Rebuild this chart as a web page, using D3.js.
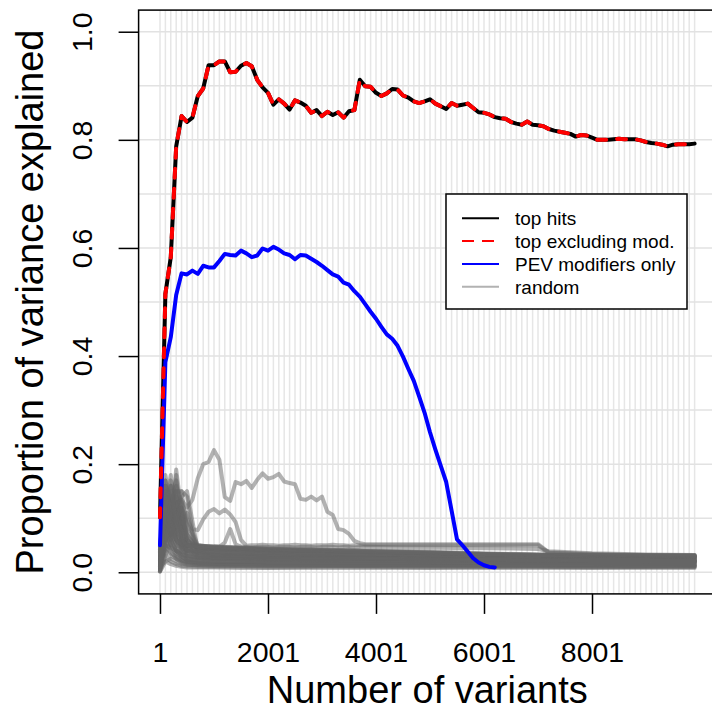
<!DOCTYPE html>
<html>
<head>
<meta charset="utf-8">
<script src="https://cdn.jsdelivr.net/npm/d3@7/dist/d3.min.js"></script>
<style>
  body { margin: 0; background: #fff; }
  text { font-family: "Liberation Sans", Arial, sans-serif; fill: #000; }
</style>
</head>
<body>
<div id="chart"></div>
<script>
// x positions: number of variants, every 100
const variants = [1, 101, 201, 301, 401, 501, 601, 701, 801, 901,
  1001, 1101, 1201, 1301, 1401, 1501, 1601, 1701, 1801, 1901,
  2001, 2101, 2201, 2301, 2401, 2501, 2601, 2701, 2801, 2901,
  3001, 3101, 3201, 3301, 3401, 3501, 3601, 3701, 3801, 3901,
  4001, 4101, 4201, 4301, 4401, 4501, 4601, 4701, 4801, 4901,
  5001, 5101, 5201, 5301, 5401, 5501, 5601, 5701, 5801, 5901,
  6001, 6101, 6201, 6301, 6401, 6501, 6601, 6701, 6801, 6901,
  7001, 7101, 7201, 7301, 7401, 7501, 7601, 7701, 7801, 7901,
  8001, 8101, 8201, 8301, 8401, 8501, 8601, 8701, 8801, 8901,
  9001, 9101, 9201, 9301, 9401, 9501, 9601, 9701, 9801, 9901];

const topHits = [0.102, 0.515, 0.583, 0.788, 0.844, 0.833, 0.841, 0.881, 0.895, 0.938,
  0.938, 0.945, 0.945, 0.925, 0.926, 0.937, 0.942, 0.936, 0.911, 0.897,
  0.887, 0.865, 0.875, 0.867, 0.856, 0.873, 0.869, 0.863, 0.850, 0.855,
  0.844, 0.852, 0.846, 0.851, 0.841, 0.853, 0.855, 0.911, 0.899, 0.898,
  0.887, 0.881, 0.886, 0.894, 0.893, 0.882, 0.878, 0.871, 0.868, 0.871,
  0.875, 0.867, 0.862, 0.857, 0.868, 0.863, 0.865, 0.867, 0.859, 0.851,
  0.850, 0.847, 0.842, 0.840, 0.839, 0.833, 0.830, 0.828, 0.834, 0.828,
  0.827, 0.825, 0.820, 0.817, 0.815, 0.813, 0.811, 0.806, 0.809, 0.808,
  0.804, 0.800, 0.800, 0.800, 0.801, 0.802, 0.801, 0.801, 0.801, 0.799,
  0.796, 0.794, 0.793, 0.791, 0.788, 0.791, 0.792, 0.792, 0.792, 0.793];

const topExcludingMod = [0.102, 0.515, 0.583, 0.788, 0.844, 0.833, 0.841, 0.881, 0.895, 0.938,
  0.938, 0.945, 0.945, 0.925, 0.926, 0.937, 0.942, 0.936, 0.911, 0.897,
  0.887, 0.865, 0.875, 0.867, 0.856, 0.873, 0.869, 0.863, 0.850, 0.855,
  0.844, 0.852, 0.846, 0.851, 0.841, 0.853, 0.855, 0.911, 0.899, 0.898,
  0.887, 0.881, 0.886, 0.894, 0.893, 0.882, 0.878, 0.871, 0.868, 0.871,
  0.875, 0.867, 0.862, 0.857, 0.868, 0.863, 0.865, 0.867, 0.859, 0.851,
  0.850, 0.847, 0.842, 0.840, 0.839, 0.833, 0.830, 0.828, 0.834, 0.828,
  0.827, 0.825, 0.820, 0.817, 0.815, 0.813, 0.811, 0.806, 0.809, 0.808,
  0.804, 0.800, 0.800, 0.800, 0.801, 0.802, 0.801, 0.801, 0.801, 0.799,
  0.796, 0.794, 0.793, 0.791, 0.788, 0.791, 0.792, 0.792, 0.792, 0.793];

// PEV modifiers only, runs out at 6201
const pevModifiers = [0.050, 0.389, 0.435, 0.513, 0.553, 0.551, 0.558, 0.552, 0.567, 0.564,
  0.564, 0.576, 0.589, 0.587, 0.586, 0.595, 0.590, 0.583, 0.586, 0.599,
  0.595, 0.602, 0.597, 0.590, 0.587, 0.579, 0.587, 0.586, 0.580, 0.574,
  0.567, 0.559, 0.551, 0.547, 0.536, 0.532, 0.520, 0.510, 0.496, 0.482,
  0.469, 0.454, 0.440, 0.432, 0.419, 0.399, 0.376, 0.354, 0.325, 0.295,
  0.259, 0.227, 0.197, 0.167, 0.114, 0.061, 0.050, 0.038, 0.026, 0.018,
  0.013, 0.010, 0.009];

// random sets with a visible bump, read on a finer grid
const peakX = [1, 101, 201, 301, 401, 501, 601, 701, 801, 901,
  1001, 1101, 1201, 1301, 1401, 1501, 1601, 1701, 1801, 1901,
  2001, 2101, 2201, 2301, 2401, 2501, 2601, 2701, 2801, 2901,
  3001, 3101, 3201, 3301, 3401, 3501, 3601, 3701, 3801,
  4501, 5501, 6501, 7001, 7201, 8001, 9001, 9901];

const randomPeakA = [0.008, 0.078, 0.106, 0.125, 0.134, 0.120, 0.134, 0.174, 0.200, 0.204,
  0.226, 0.208, 0.139, 0.132, 0.167, 0.163, 0.169, 0.156, 0.171, 0.183,
  0.173, 0.176, 0.182, 0.168, 0.165, 0.163, 0.136, 0.134, 0.140, 0.133,
  0.140, 0.112, 0.106, 0.080, 0.078, 0.071, 0.058, 0.054, 0.052,
  0.052, 0.052, 0.052, 0.052, 0.037, 0.034, 0.032, 0.031];

const randomPeakB = [0.005, 0.060, 0.100, 0.150, 0.150, 0.140, 0.080, 0.078, 0.098, 0.112,
  0.117, 0.109, 0.116, 0.107, 0.093, 0.060, 0.049, 0.050, 0.050, 0.051,
  0.050, 0.050, 0.049, 0.050, 0.050, 0.051, 0.050, 0.050, 0.049, 0.050,
  0.050, 0.050, 0.051, 0.050, 0.050, 0.049, 0.050, 0.050, 0.050,
  0.050, 0.050, 0.050, 0.050, 0.036, 0.033, 0.031, 0.030];

const randomPeakC = [0.010, 0.120, 0.160, 0.090, 0.060, 0.050, 0.047, 0.047, 0.046, 0.047,
  0.047, 0.047, 0.055, 0.080, 0.052, 0.047, 0.047, 0.046, 0.047, 0.047,
  0.047, 0.046, 0.047, 0.047, 0.047, 0.046, 0.047, 0.047, 0.047, 0.046,
  0.047, 0.047, 0.047, 0.046, 0.047, 0.047, 0.046, 0.047, 0.047,
  0.046, 0.045, 0.044, 0.043, 0.039, 0.035, 0.033, 0.032];

// the rest of the random sets, the dense band at the bottom
const bandX = [1, 101, 201, 301, 401, 501, 701, 1001, 1501, 2001, 3001, 4001, 5001, 6001, 7001, 8001, 9001, 9901];

const randomBand = [
  [0.002, 0.030, 0.020, 0.015, 0.012, 0.011, 0.010, 0.010, 0.010, 0.009, 0.010, 0.010, 0.009, 0.010, 0.010, 0.009, 0.010, 0.010],
  [0.005, 0.060, 0.040, 0.025, 0.018, 0.015, 0.013, 0.012, 0.012, 0.013, 0.012, 0.012, 0.013, 0.012, 0.012, 0.012, 0.011, 0.012],
  [0.010, 0.090, 0.050, 0.030, 0.022, 0.018, 0.016, 0.015, 0.015, 0.014, 0.015, 0.015, 0.014, 0.014, 0.014, 0.013, 0.014, 0.013],
  [0.003, 0.120, 0.080, 0.045, 0.030, 0.022, 0.019, 0.018, 0.017, 0.018, 0.017, 0.016, 0.016, 0.016, 0.015, 0.015, 0.015, 0.015],
  [0.015, 0.050, 0.110, 0.060, 0.035, 0.026, 0.022, 0.021, 0.020, 0.020, 0.019, 0.019, 0.018, 0.018, 0.017, 0.017, 0.017, 0.016],
  [0.020, 0.140, 0.100, 0.150, 0.060, 0.030, 0.025, 0.024, 0.023, 0.022, 0.022, 0.021, 0.020, 0.020, 0.019, 0.019, 0.018, 0.018],
  [0.008, 0.170, 0.090, 0.190, 0.110, 0.050, 0.028, 0.027, 0.026, 0.025, 0.024, 0.023, 0.022, 0.021, 0.021, 0.020, 0.020, 0.020],
  [0.025, 0.080, 0.160, 0.120, 0.140, 0.150, 0.040, 0.030, 0.028, 0.027, 0.026, 0.025, 0.024, 0.023, 0.022, 0.022, 0.021, 0.021],
  [0.012, 0.110, 0.060, 0.100, 0.080, 0.110, 0.035, 0.033, 0.031, 0.030, 0.028, 0.027, 0.025, 0.024, 0.024, 0.023, 0.023, 0.022],
  [0.030, 0.150, 0.130, 0.070, 0.050, 0.040, 0.038, 0.036, 0.034, 0.032, 0.030, 0.029, 0.027, 0.026, 0.025, 0.025, 0.024, 0.024],
  [0.018, 0.100, 0.170, 0.140, 0.090, 0.060, 0.042, 0.039, 0.037, 0.035, 0.032, 0.031, 0.029, 0.028, 0.027, 0.026, 0.026, 0.025],
  [0.035, 0.070, 0.120, 0.160, 0.130, 0.070, 0.045, 0.042, 0.040, 0.038, 0.035, 0.033, 0.031, 0.029, 0.028, 0.028, 0.027, 0.027],
  [0.040, 0.130, 0.090, 0.110, 0.150, 0.080, 0.048, 0.045, 0.043, 0.041, 0.038, 0.035, 0.033, 0.031, 0.030, 0.029, 0.029, 0.028],
  [0.045, 0.160, 0.140, 0.100, 0.070, 0.055, 0.050, 0.047, 0.045, 0.043, 0.040, 0.037, 0.035, 0.033, 0.031, 0.031, 0.030, 0.030],
  [0.050, 0.120, 0.180, 0.090, 0.060, 0.050, 0.048, 0.046, 0.044, 0.042, 0.041, 0.039, 0.037, 0.034, 0.033, 0.032, 0.032, 0.031],
  [0.028, 0.090, 0.070, 0.130, 0.100, 0.060, 0.044, 0.043, 0.042, 0.040, 0.039, 0.038, 0.036, 0.033, 0.032, 0.031, 0.031, 0.032],
  [0.006, 0.040, 0.030, 0.025, 0.020, 0.017, 0.015, 0.014, 0.013, 0.012, 0.012, 0.011, 0.011, 0.011, 0.011, 0.010, 0.010, 0.010],
  [0.022, 0.070, 0.050, 0.035, 0.028, 0.024, 0.021, 0.019, 0.019, 0.018, 0.018, 0.018, 0.017, 0.017, 0.016, 0.016, 0.016, 0.017],
  [0.032, 0.100, 0.060, 0.040, 0.032, 0.030, 0.028, 0.026, 0.025, 0.024, 0.023, 0.022, 0.022, 0.021, 0.020, 0.020, 0.019, 0.019],
  [0.038, 0.050, 0.045, 0.040, 0.038, 0.036, 0.034, 0.032, 0.031, 0.030, 0.029, 0.028, 0.026, 0.025, 0.024, 0.023, 0.022, 0.022],
  [0.001, 0.020, 0.015, 0.012, 0.010, 0.009, 0.009, 0.009, 0.008, 0.008, 0.008, 0.008, 0.008, 0.008, 0.008, 0.008, 0.008, 0.008],
  [0.014, 0.180, 0.120, 0.060, 0.040, 0.030, 0.026, 0.025, 0.024, 0.023, 0.021, 0.020, 0.019, 0.019, 0.018, 0.018, 0.018, 0.018],
  [0.042, 0.060, 0.080, 0.050, 0.046, 0.044, 0.043, 0.041, 0.039, 0.038, 0.037, 0.036, 0.034, 0.032, 0.030, 0.029, 0.028, 0.028],
  [0.026, 0.140, 0.070, 0.180, 0.060, 0.040, 0.032, 0.030, 0.029, 0.028, 0.027, 0.026, 0.025, 0.024, 0.023, 0.022, 0.022, 0.021],
  [0.004, 0.110, 0.070, 0.040, 0.025, 0.020, 0.017, 0.016, 0.016, 0.015, 0.015, 0.014, 0.014, 0.014, 0.013, 0.013, 0.013, 0.013],
  [0.016, 0.090, 0.130, 0.080, 0.045, 0.032, 0.027, 0.025, 0.024, 0.024, 0.023, 0.022, 0.021, 0.021, 0.020, 0.019, 0.019, 0.019],
  [0.024, 0.150, 0.110, 0.090, 0.070, 0.045, 0.036, 0.034, 0.032, 0.031, 0.030, 0.028, 0.027, 0.026, 0.025, 0.024, 0.024, 0.023],
  [0.034, 0.080, 0.060, 0.120, 0.090, 0.050, 0.040, 0.038, 0.036, 0.035, 0.033, 0.032, 0.030, 0.029, 0.027, 0.026, 0.026, 0.025],
  [0.044, 0.100, 0.150, 0.130, 0.080, 0.052, 0.046, 0.044, 0.042, 0.040, 0.038, 0.036, 0.034, 0.032, 0.030, 0.029, 0.028, 0.027],
  [0.048, 0.070, 0.100, 0.070, 0.055, 0.050, 0.049, 0.048, 0.046, 0.044, 0.042, 0.040, 0.038, 0.035, 0.033, 0.032, 0.031, 0.030],
  [0.009, 0.050, 0.035, 0.028, 0.022, 0.019, 0.017, 0.016, 0.015, 0.015, 0.014, 0.014, 0.013, 0.013, 0.013, 0.012, 0.012, 0.012],
  [0.013, 0.130, 0.090, 0.110, 0.060, 0.035, 0.028, 0.026, 0.025, 0.024, 0.023, 0.023, 0.022, 0.021, 0.021, 0.020, 0.020, 0.020],
  [0.019, 0.160, 0.120, 0.070, 0.120, 0.060, 0.033, 0.031, 0.030, 0.029, 0.028, 0.027, 0.026, 0.025, 0.024, 0.023, 0.023, 0.022],
  [0.029, 0.120, 0.080, 0.140, 0.100, 0.070, 0.041, 0.039, 0.037, 0.036, 0.034, 0.033, 0.031, 0.030, 0.028, 0.027, 0.027, 0.026],
  [0.037, 0.060, 0.140, 0.100, 0.120, 0.090, 0.047, 0.045, 0.043, 0.041, 0.039, 0.037, 0.035, 0.033, 0.031, 0.030, 0.029, 0.029],
  [0.002, 0.030, 0.060, 0.040, 0.030, 0.022, 0.018, 0.017, 0.016, 0.016, 0.015, 0.015, 0.015, 0.014, 0.014, 0.014, 0.013, 0.014],
  [0.007, 0.080, 0.050, 0.090, 0.040, 0.026, 0.022, 0.021, 0.020, 0.019, 0.019, 0.018, 0.018, 0.017, 0.017, 0.017, 0.016, 0.016],
  [0.021, 0.040, 0.090, 0.060, 0.050, 0.040, 0.036, 0.033, 0.031, 0.029, 0.027, 0.026, 0.025, 0.024, 0.023, 0.022, 0.021, 0.021],
  [0.027, 0.170, 0.100, 0.060, 0.045, 0.042, 0.040, 0.038, 0.036, 0.034, 0.032, 0.031, 0.029, 0.028, 0.027, 0.026, 0.025, 0.025],
  [0.033, 0.090, 0.120, 0.170, 0.110, 0.065, 0.046, 0.043, 0.041, 0.039, 0.036, 0.034, 0.032, 0.030, 0.029, 0.028, 0.027, 0.026],
  [0.046, 0.140, 0.080, 0.060, 0.052, 0.050, 0.049, 0.047, 0.045, 0.043, 0.041, 0.039, 0.036, 0.034, 0.032, 0.031, 0.030, 0.029],
  [0.011, 0.020, 0.025, 0.020, 0.016, 0.014, 0.013, 0.012, 0.012, 0.011, 0.011, 0.011, 0.011, 0.010, 0.010, 0.010, 0.010, 0.010],
  [0.017, 0.060, 0.080, 0.110, 0.070, 0.040, 0.030, 0.028, 0.027, 0.026, 0.025, 0.025, 0.024, 0.023, 0.022, 0.021, 0.021, 0.021],
  [0.039, 0.110, 0.070, 0.090, 0.130, 0.100, 0.050, 0.046, 0.044, 0.042, 0.040, 0.038, 0.036, 0.034, 0.032, 0.031, 0.030, 0.029]
];

const xTicks = [1, 2001, 4001, 6001, 8001];
const yTicks = [0, 0.2, 0.4, 0.6, 0.8, 1.0];
const legendLabels = ["top hits", "top excluding mod.", "PEV modifiers only", "random"];

function VarianceChart(container_class) {
  this.container_class = container_class;

  this.draw_chart = function() {
    d3.select(this.container_class).selectAll("*").remove();

    var margin = {top: 10.1, left: 138.6};
    var width = 577.4;
    var height = 583.8;

    const svg_root = d3.select(this.container_class)
      .append("svg")
      .attr("width", 712)
      .attr("height", 719);

    const svg = svg_root.append("g")
      .attr("transform", `translate(${margin.left}, ${margin.top})`);

    // R style 4% padding round the data range
    const x = d3.scaleLinear()
      .domain([1 - 0.04 * 9900, 9901 + 0.04 * 9900])
      .range([0, width]);

    const y = d3.scaleLinear()
      .domain([-0.04, 1.04])
      .range([height, 0]);

    // grid
    svg.append("g")
      .selectAll("line")
      .data(variants)
      .join("line")
      .attr("x1", d => x(d)).attr("x2", d => x(d))
      .attr("y1", 0).attr("y2", height)
      .attr("stroke", "#e6e6e6")
      .attr("stroke-width", 1.5);

    svg.append("g")
      .selectAll("line")
      .data(d3.range(0, 11).map(d => d / 10))
      .join("line")
      .attr("x1", 0).attr("x2", width)
      .attr("y1", d => y(d)).attr("y2", d => y(d))
      .attr("stroke", "#e2e2e2")
      .attr("stroke-width", 1.5);

    const line = d3.line()
      .x(d => x(d[0]))
      .y(d => y(d[1]));

    // random sets first, semi transparent so overlaps go dark
    var random_runs = randomBand.map(r => bandX.map((v, i) => [v, r[i]]));
    random_runs.push(peakX.map((v, i) => [v, randomPeakA[i]]));
    random_runs.push(peakX.map((v, i) => [v, randomPeakB[i]]));
    random_runs.push(peakX.map((v, i) => [v, randomPeakC[i]]));

    svg.append("g")
      .selectAll("path")
      .data(random_runs)
      .join("path")
      .attr("d", line)
      .attr("fill", "none")
      .attr("stroke", "#666666")
      .attr("stroke-opacity", 0.5)
      .attr("stroke-width", 4)
      .attr("stroke-linejoin", "round")
      .attr("stroke-linecap", "round");

    // top hits
    svg.append("path")
      .attr("d", line(variants.map((v, i) => [v, topHits[i]])))
      .attr("fill", "none")
      .attr("stroke", "#000")
      .attr("stroke-width", 4)
      .attr("stroke-linejoin", "round")
      .attr("stroke-linecap", "round");

    // PEV modifiers
    svg.append("path")
      .attr("d", line(pevModifiers.map((d, i) => [variants[i], d])))
      .attr("fill", "none")
      .attr("stroke", "#0000ff")
      .attr("stroke-width", 4)
      .attr("stroke-linejoin", "round")
      .attr("stroke-linecap", "round");

    // top excluding modifiers, dashed on top
    svg.append("path")
      .attr("d", line(variants.map((v, i) => [v, topExcludingMod[i]])))
      .attr("fill", "none")
      .attr("stroke", "#ff0000")
      .attr("stroke-width", 4)
      .attr("stroke-dasharray", "9,11")
      .attr("stroke-linejoin", "round")
      .attr("stroke-linecap", "round");

    // box
    svg.append("rect")
      .attr("x", 0).attr("y", 0)
      .attr("width", width).attr("height", height)
      .attr("fill", "none")
      .attr("stroke", "#000")
      .attr("stroke-width", 1.5);

    // x axis
    const xAxis = svg.append("g")
      .attr("transform", `translate(0, ${height})`)
      .call(d3.axisBottom(x).tickValues(xTicks).tickSize(20).tickFormat(d3.format("d")));
    xAxis.select(".domain").remove();
    xAxis.selectAll("line").attr("stroke", "#000").attr("stroke-width", 1.5);
    xAxis.selectAll("text")
      .attr("y", 68)
      .attr("dy", 0)
      .attr("font-size", 28.5)
      .attr("font-family", "Liberation Sans, Arial, sans-serif");

    // y axis, labels turned like R does
    const yAxis = svg.append("g")
      .call(d3.axisLeft(y).tickValues(yTicks).tickSize(20).tickFormat(d3.format(".1f")));
    yAxis.select(".domain").remove();
    yAxis.selectAll("line").attr("stroke", "#000").attr("stroke-width", 1.5);
    yAxis.selectAll("text")
      .attr("transform", "rotate(-90)")
      .attr("x", 0)
      .attr("y", -46.6)
      .attr("dy", 0)
      .style("text-anchor", "middle")
      .attr("font-size", 28.5)
      .attr("font-family", "Liberation Sans, Arial, sans-serif");

    // axis titles
    svg_root.append("text")
      .attr("x", margin.left + width / 2)
      .attr("y", 703)
      .attr("text-anchor", "middle")
      .attr("font-size", 38)
      .text("Number of variants");

    svg_root.append("text")
      .attr("transform", `translate(43, ${margin.top + height / 2}) rotate(-90)`)
      .attr("text-anchor", "middle")
      .attr("font-size", 38)
      .text("Proportion of variance explained");

    // legend
    const legend = svg_root.append("g");
    legend.append("rect")
      .attr("x", 446).attr("y", 194)
      .attr("width", 241).attr("height", 115)
      .attr("fill", "#fff")
      .attr("stroke", "#000")
      .attr("stroke-width", 1.5);

    const legend_styles = [
      {stroke: "#000", dash: null, opacity: 1},
      {stroke: "#ff0000", dash: "12,8", opacity: 1},
      {stroke: "#0000ff", dash: null, opacity: 1},
      {stroke: "#666666", dash: null, opacity: 0.5}
    ];

    const rows = legend.selectAll("g.row")
      .data(legendLabels)
      .join("g")
      .attr("class", "row")
      .attr("transform", (d, i) => `translate(0, ${218.3 + i * 22.8})`);

    rows.append("line")
      .attr("x1", 462).attr("x2", 499)
      .attr("y1", 0).attr("y2", 0)
      .attr("stroke", (d, i) => legend_styles[i].stroke)
      .attr("stroke-opacity", (d, i) => legend_styles[i].opacity)
      .attr("stroke-dasharray", (d, i) => legend_styles[i].dash)
      .attr("stroke-width", 2);

    rows.append("text")
      .attr("x", 515)
      .attr("y", 7)
      .attr("font-size", 19)
      .text(d => d);
  };
}

var chart = new VarianceChart("#chart");
chart.draw_chart();
</script>
</body>
</html>
